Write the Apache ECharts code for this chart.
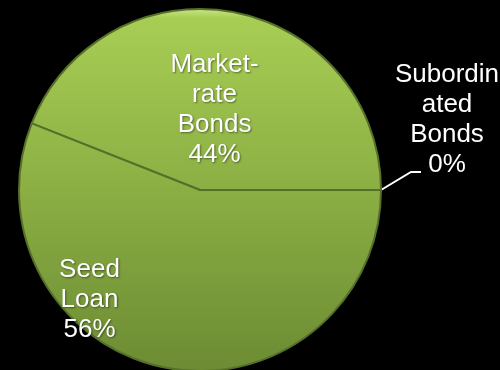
<!DOCTYPE html>
<html>
<head>
<meta charset="utf-8">
<script src="https://cdn.jsdelivr.net/npm/echarts@6/dist/echarts.min.js"></script>
<style>
  html, body { margin: 0; padding: 0; background: #000; }
  #chart { width: 500px; height: 370px; }
</style>
</head>
<body>
<div id="chart"></div>
<script>
// Funding sources, share of total (%)
const categories = ['Market-rate Bonds', 'Seed Loan', 'Subordinated Bonds'];
const shares = [44, 56, 0];
// Label text as it wraps on the slide
const wrappedNames = ['Market-\nrate\nBonds', 'Seed\nLoan', 'Subordin\nated\nBonds'];

const chart = echarts.init(document.getElementById('chart'), null, { renderer: 'canvas' });

const greenFill = new echarts.graphic.LinearGradient(0, 9, 0, 372, [
  { offset: 0.0, color: '#c6e585' },
  { offset: 0.025, color: '#a8cd54' },
  { offset: 0.45, color: '#8eb245' },
  { offset: 1.0, color: '#6c8b33' }
], true);

chart.setOption({
  backgroundColor: '#000000',
  animation: false,
  series: [{
    type: 'pie',
    center: [200, 190],
    radius: 181,
    startAngle: 0,
    clockwise: false,
    minShowLabelAngle: 0,
    avoidLabelOverlap: false,
    data: categories.map((name, i) => i === 2 ? {
      name: name, value: shares[i],
      label: { position: 'outside' },
      labelLine: { show: true, length: 30, length2: 10, lineStyle: { color: '#ffffff', width: 2 } }
    } : { name: name, value: shares[i] }),
    itemStyle: {
      color: greenFill,
      borderColor: '#55702a',
      borderWidth: 2
    },
    label: {
      show: true,
      position: 'inside',
      formatter: p => wrappedNames[p.dataIndex] + '\n' + p.value + '%',
      color: '#ffffff',
      fontFamily: 'Liberation Sans, Arial, sans-serif',
      fontSize: 26,
      lineHeight: 30,
      align: 'center',
      textShadowColor: 'rgba(0,0,0,0.45)',
      textShadowBlur: 2,
      textShadowOffsetX: 1,
      textShadowOffsetY: 1
    },
    labelLine: { show: false },
    labelLayout: function (params) {
      if (params.dataIndex === 0) {
        return { dx: -3, dy: 12 };
      }
      if (params.dataIndex === 1) {
        return { dx: -93, dy: 18 };
      }
      if (params.dataIndex === 2 && params.labelLinePoints) {
        // leader line rises from the rim, then runs a short way right
        const s = params.labelLinePoints[0];
        const knee = [s[0] + 30, s[1] - 18];
        const end = [knee[0] + 10, knee[1]];
        return {
          x: end[0] + 26,
          y: end[1] - 52,
          align: 'center',
          verticalAlign: 'middle',
          labelLinePoints: [s, knee, end]
        };
      }
    },
    emphasis: { disabled: true }
  }]
});
</script>
</body>
</html>
